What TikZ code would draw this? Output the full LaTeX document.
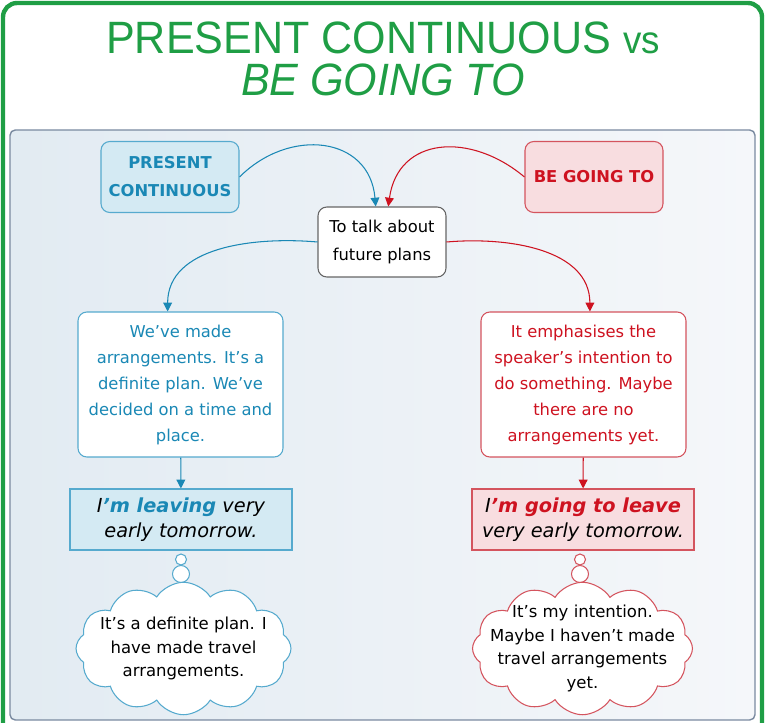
\documentclass[tikz,border=0pt]{standalone}
\usepackage{fontspec}
\setmainfont{DejaVu Sans}
\newfontfamily\titelfont{Liberation Sans}
\usetikzlibrary{arrows.meta,shapes.symbols}

\definecolor{titelgruen}{RGB}{31,158,69}
\definecolor{pcblau}{RGB}{26,136,181}
\definecolor{pcrand}{RGB}{86,170,206}
\definecolor{pcfill}{RGB}{212,234,243}
\definecolor{bgrot}{RGB}{206,18,32}
\definecolor{bgrand}{RGB}{212,84,94}
\definecolor{bgfill}{RGB}{248,221,224}
\definecolor{panelrand}{RGB}{122,138,160}
\definecolor{panellinks}{RGB}{226,235,242}
\definecolor{panelrechts}{RGB}{245,247,250}

\tikzset{
  kopf/.style={draw, rounded corners=5pt, line width=0.6pt, align=center,
    minimum width=2.76cm, minimum height=1.42cm,
    font=\bfseries\fontsize{9.3}{15.9}\selectfont},
  kasten/.style={draw, fill=white, rounded corners=5pt, line width=0.6pt, align=center,
    minimum width=4.1cm, minimum height=2.9cm},
  satz/.style={draw, line width=0.6pt, align=center,
    minimum width=4.44cm, minimum height=1.22cm,
    font=\itshape\fontsize{11}{14.2}\selectfont},
  wolke/.style={cloud, cloud puffs=12, cloud puff arc=115, cloud ignores aspect,
    draw, fill=white, line width=0.6pt, inner sep=0pt,
    minimum width=4.3cm, minimum height=2.65cm},
  wolkentext/.style={align=center, font=\fontsize{9.4}{13.4}\selectfont},
  blase/.style={circle, draw, fill=white, line width=0.6pt, inner sep=0pt},
  pfeil/.style={->, line width=0.6pt}
}

\begin{document}
\begin{tikzpicture}[x=0.02cm, y=-0.02cm, font=\fontsize{9.3}{14.8}\selectfont,
    >={Triangle[length=5pt,width=5pt]}]
  \useasboundingbox (0,0) rectangle (768,723);
  % Rahmen
  \draw[titelgruen, line width=2.5pt, rounded corners=8pt] (3,3) rectangle (762,745);
  \shadedraw[left color=panellinks, right color=panelrechts, draw=panelrand,
    line width=0.8pt, rounded corners=3pt] (10,130) rectangle (755,720);

  % Titel
  \node[anchor=base, text=titelgruen, font=\titelfont\fontsize{25.8}{30}\selectfont] (titel1) at (383,54)
    {\scalebox{0.95}[1]{PRESENT CONTINUOUS {\fontsize{22}{26}\selectfont vs}}};
  \node[anchor=base, text=titelgruen, font=\titelfont\itshape\fontsize{25.8}{30}\selectfont] (titel2) at (383,96)
    {\scalebox{0.95}[1]{BE GOING TO}};

  % Knoten
  \node[kopf, fill=pcfill, draw=pcrand, text=pcblau] (pc) at (170,177) {PRESENT\\CONTINUOUS};
  \node[kopf, fill=bgfill, draw=bgrand, text=bgrot] (bgt) at (594,177) {BE GOING TO};
  \node[draw=black!60, fill=white, rounded corners=5pt, line width=0.6pt, align=center,
    minimum width=2.56cm, minimum height=1.4cm, font=\fontsize{9.3}{15.9}\selectfont] (talk) at (382,242)
    {To talk about\\future plans};

  \node[kasten, draw=pcrand, text=pcblau] (lbox) at (180.5,384.5)
    {We've made\\arrangements. It's a\\definite plan. We've\\decided on a time and\\place.};
  \node[kasten, draw=bgrand, text=bgrot] (rbox) at (583.5,384.5)
    {It emphasises the\\speaker's intention to\\do something. Maybe\\there are no\\arrangements yet.};

  \node[satz, fill=pcfill, draw=pcrand] (lex) at (181,519.5)
    {I{\color{pcblau}\bfseries 'm leaving} very\\early tomorrow.};
  \node[satz, fill=bgfill, draw=bgrand] (rex) at (583,519.5)
    {I{\color{bgrot}\bfseries 'm going to leave}\\very early tomorrow.};

  % Gedankenblasen
  \node[blase, draw=pcrand, minimum size=0.22cm] (lb1) at (181,559.5) {};
  \node[blase, draw=pcrand, minimum size=0.34cm] (lb2) at (181,574) {};
  \node[blase, draw=bgrand, minimum size=0.22cm] (rb1) at (580,559.5) {};
  \node[blase, draw=bgrand, minimum size=0.34cm] (rb2) at (580,574) {};
  \node[wolke, draw=pcrand] (lwolke) at (183.5,648.5) {};
  \node[wolkentext] (lwtext) at (lwolke.center)
    {It's a definite plan. I\\have made travel\\arrangements.};
  \node[wolke, draw=bgrand, minimum width=4.4cm] (rwolke) at (582.5,648.5) {};
  \node[wolkentext] (rwtext) at (rwolke.center)
    {It's my intention.\\Maybe I haven't made\\travel arrangements\\yet.};

  % Pfeile
  \draw[pfeil, pcblau] (pc.east) to[out=45, in=95, looseness=1.3] (talk.100);
  \draw[pfeil, bgrot] (bgt.west) to[out=140, in=82, looseness=1.3] (talk.80);
  \draw[pfeil, pcblau] (talk.west) to[out=175, in=90] (lbox.100);
  \draw[pfeil, bgrot] (talk.east) to[out=5, in=90] (rbox.85);
  \draw[pfeil, pcblau] (lbox) -- (lex);
  \draw[pfeil, bgrot] (rbox) -- (rex);
\end{tikzpicture}
\end{document}
